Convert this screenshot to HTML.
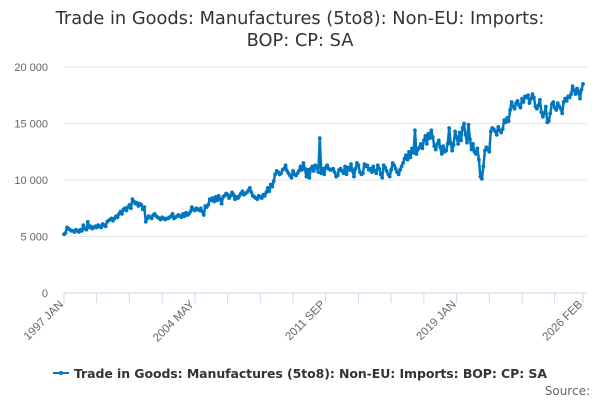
<!DOCTYPE html>
<html><head><meta charset="utf-8"><style>
body{margin:0;background:#fff;width:600px;height:400px;overflow:hidden;font-family:"Liberation Sans",sans-serif}
svg{display:block}
</style></head><body>
<svg id="chart" width="600" height="400">
<text x="300" y="24" text-anchor="middle" font-size="17.8" fill="#333" font-family="DejaVu Sans, sans-serif">Trade in Goods: Manufactures (5to8): Non-EU: Imports:</text>
<text x="300" y="46" text-anchor="middle" font-size="17.8" fill="#333" font-family="DejaVu Sans, sans-serif">BOP: CP: SA</text>
<g id="grid"></g><g id="xaxis"></g><g id="series"></g>
<g>
<line x1="53" y1="373" x2="69" y2="373" stroke="#0077c0" stroke-width="2"/>
<circle cx="61" cy="373" r="2" fill="#0077c0"/>
<text x="74" y="378" font-size="12.5" font-weight="bold" fill="#333" font-family="DejaVu Sans, sans-serif" textLength="473">Trade in Goods: Manufactures (5to8): Non-EU: Imports: BOP: CP: SA</text>
</g>
<text x="590" y="395" text-anchor="end" font-size="12" fill="#666" font-family="DejaVu Sans, sans-serif">Source:</text>
</svg>
<script>
const yTicks=[0,5000,10000,15000,20000];
const yTickLabels=["0","5 000","10 000","15 000","20 000"];
const xLabelIdx=[0,88,176,264,349];
const xLabels=["1997 JAN","2004 MAY","2011 SEP","2019 JAN","2026 FEB"];
const values=[
5.2,5.3,5.8,5.7,5.6,5.5,5.5,5.4,5.6,5.5,5.4,5.6,
5.5,6.0,5.7,5.6,6.3,5.8,5.9,5.7,5.8,5.9,5.8,6.0,
5.9,5.8,6.1,6.0,5.9,6.3,6.4,6.5,6.6,6.4,6.6,6.8,
6.7,7.0,7.2,7.0,7.4,7.5,7.3,7.6,7.8,7.5,8.3,8.1,
7.9,8.0,7.7,7.9,7.8,7.4,7.6,6.3,6.6,6.8,6.7,6.6,
6.9,7.0,6.8,6.7,6.6,6.5,6.7,6.6,6.5,6.6,6.6,6.7,
6.8,7.0,6.6,6.7,6.8,6.9,6.8,6.7,7.0,6.8,7.1,6.9,
7.0,7.2,7.6,7.4,7.3,7.5,7.4,7.3,7.5,7.2,6.9,7.7,
7.6,7.8,8.3,8.2,8.4,8.1,8.5,8.2,8.6,8.3,7.9,8.5,
8.6,8.8,8.7,8.4,8.6,8.9,8.7,8.3,8.5,8.4,8.6,8.8,
9.0,8.7,8.8,8.9,9.1,9.3,8.9,8.6,8.5,8.4,8.3,8.6,
8.5,8.4,8.7,8.6,8.9,9.3,9.0,9.6,9.4,9.9,10.5,10.8,
10.7,10.5,10.6,10.9,11.0,11.3,10.8,10.6,10.4,10.2,10.8,10.5,
10.4,10.6,10.8,11.2,10.9,11.5,11.0,10.3,10.9,10.2,11.0,11.2,
10.8,11.3,11.1,10.7,13.7,10.6,11.0,10.5,11.1,11.3,11.0,10.9,
10.9,11.0,10.7,10.3,10.4,10.9,11.0,10.8,10.6,11.2,10.5,11.1,
10.9,11.4,10.8,10.3,11.0,11.5,11.3,10.7,10.5,10.6,11.4,11.2,
11.3,10.9,11.0,10.7,11.2,10.8,10.6,11.3,11.0,10.5,10.2,11.3,
11.1,10.8,10.5,10.3,10.9,11.5,11.3,11.0,10.7,10.5,10.9,11.2,
11.5,11.9,12.2,11.8,12.5,12.0,12.8,12.4,14.4,12.3,12.7,12.9,
13.2,12.8,13.5,13.9,13.2,14.1,13.7,14.4,13.8,13.0,12.7,13.2,
13.5,12.9,12.3,13.0,12.5,12.6,13.2,14.6,13.3,12.6,13.1,14.3,
13.8,13.2,14.2,13.5,14.6,15.0,14.0,13.3,14.9,13.6,12.7,13.2,
12.5,12.3,12.8,11.8,10.3,10.1,11.2,12.6,12.9,12.7,12.5,14.3,
14.6,14.5,14.3,14.0,14.7,14.4,14.2,14.5,15.3,15.1,15.5,15.2,
16.2,16.9,16.5,16.3,16.8,17.0,16.6,16.4,17.2,16.9,17.4,17.3,
17.5,16.8,17.2,17.6,17.3,16.5,16.3,16.6,17.1,16.0,15.6,15.9,
16.5,15.1,15.2,15.9,16.7,16.9,16.4,16.2,16.8,16.5,16.3,15.9,
16.9,17.2,17.0,17.4,17.3,17.6,18.3,17.9,17.6,18.1,17.8,17.2,
18.0,18.5];
const NS="http://www.w3.org/2000/svg";
const X0=64,X1=583,Y0=293,Y1=67,YMAX=20000;
const n=values.length;
function xs(i){return X0+i*(X1-X0)/(n-1);}
function ys(v){return Y0-(v/YMAX)*(Y0-Y1);}
function mk(t,a){const e=document.createElementNS(NS,t);for(const k in a)e.setAttribute(k,a[k]);return e;}
const grid=document.getElementById('grid');
yTicks.forEach((v,k)=>{
 const l=mk('line',{x1:X0,x2:X1+4,y1:ys(v),y2:ys(v),stroke:v===0?'#ccd6eb':'#e6e6e6','stroke-width':1});
 
 
 grid.appendChild(l);
 const t=mk('text',{x:48,y:ys(v)+4,'text-anchor':'end','font-size':11,fill:'#666'});
 t.textContent=yTickLabels[k];
 
 
 grid.appendChild(t);
});
const xa=document.getElementById('xaxis');
const tickIdx=[];for(let i=0;i<n;i+=22)tickIdx.push(i);tickIdx.push(n-1);
tickIdx.forEach(i=>{
 const l=mk('line',{x1:xs(i),x2:xs(i),y1:Y0,y2:Y0+10,stroke:'#ccd6eb'});
 
 
 xa.appendChild(l);
});
xLabelIdx.forEach((i,k)=>{
 const x=xs(i),y=Y0+12;
 const t=mk('text',{x:x,y:y,'text-anchor':'end','font-size':11.5,fill:'#666',transform:`rotate(-45 ${x} ${y})`});
 t.textContent=xLabels[k];
 
 
 xa.appendChild(t);
});
const sg=document.getElementById('series');
const pts=values.map((v,i)=>xs(i).toFixed(1)+','+ys(v*1000).toFixed(1)).join(' ');
const pl=mk('polyline',{points:pts,fill:'none',stroke:'#0077c0','stroke-width':2.5,'stroke-linejoin':'round'});


sg.appendChild(pl);
values.forEach((v,i)=>{
 const c=mk('circle',{cx:xs(i),cy:ys(v*1000),r:1.9,fill:'#0077c0'});
 
 
 sg.appendChild(c);
});
</script>
</body></html>
